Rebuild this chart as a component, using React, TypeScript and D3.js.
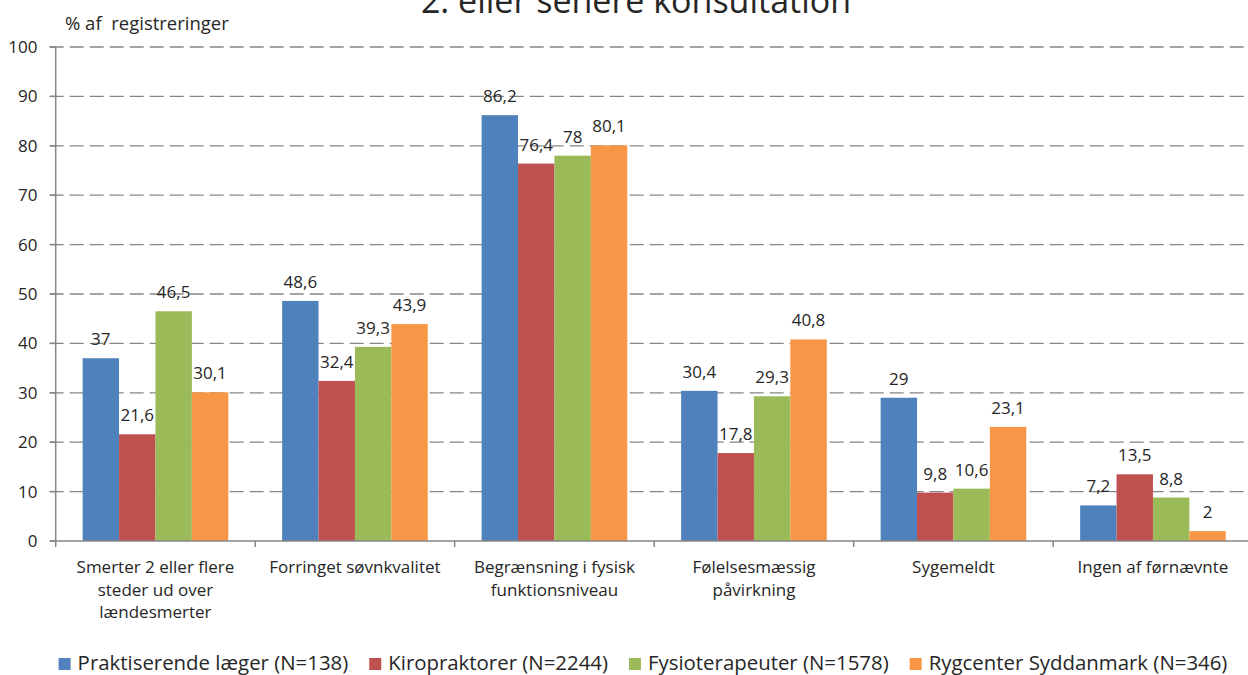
import React, { useEffect, useRef } from "react";
import * as d3 from "d3";

const categories = [
  ["Smerter 2 eller flere", "steder ud over", "lændesmerter"],
  ["Forringet søvnkvalitet"],
  ["Begrænsning i fysisk", "funktionsniveau"],
  ["Følelsesmæssig", "påvirkning"],
  ["Sygemeldt"],
  ["Ingen af førnævnte"],
];
const seriesNames = [
  "Praktiserende læger (N=138)",
  "Kiropraktorer (N=2244)",
  "Fysioterapeuter (N=1578)",
  "Rygcenter Syddanmark (N=346)",
];
const seriesColors = ["#4F81BD", "#C0504D", "#9BBB59", "#F79646"];
const praktiserende = [37, 48.6, 86.2, 30.4, 29, 7.2];
const kiropraktorer = [21.6, 32.4, 76.4, 17.8, 9.8, 13.5];
const fysioterapeuter = [46.5, 39.3, 78, 29.3, 10.6, 8.8];
const rygcenter = [30.1, 43.9, 80.1, 40.8, 23.1, 2];
const yTicks = [0, 10, 20, 30, 40, 50, 60, 70, 80, 90, 100];
const title = "2. eller senere konsultation";
const yTitle = "% af  registreringer";

const FONT = "'Open Sans', sans-serif";

export default function App() {
  const ref = useRef<SVGSVGElement>(null);
  useEffect(() => {
    const svg = d3.select(ref.current);
    svg.selectAll("*").remove();
    const W = 1248, H = 675;
    const left = 55.7, right = 1252.7, top = 47, bottom = 541;
    const y = d3.scaleLinear().domain([0, 100]).range([bottom, top]);
    const idx = d3.range(categories.length);
    const x0 = d3.scaleBand<number>().domain(idx).range([left, right]).padding(0);
    const x1 = d3.scaleBand<number>().domain(d3.range(4)).range([0, x0.bandwidth()]).paddingInner(0).paddingOuter(0.74);
    const series = [praktiserende, kiropraktorer, fysioterapeuter, rygcenter];

    svg.append("rect").attr("width", W).attr("height", H).attr("fill", "#fff");

    // gridlines
    svg.append("g").selectAll("line").data(yTicks.filter(t => t > 0)).join("line")
      .attr("x1", left - 6).attr("x2", W).attr("y1", d => y(d)).attr("y2", d => y(d))
      .attr("stroke", "#868686").attr("stroke-width", 1.3).attr("stroke-dasharray", "14,6");

    // bars
    series.forEach((vals, si) => {
      svg.append("g").selectAll("rect").data(vals).join("rect")
        .attr("x", (d, i) => x0(i)! + x1(si)!)
        .attr("width", x1.bandwidth())
        .attr("y", d => y(d))
        .attr("height", d => y(0) - y(d))
        .attr("fill", seriesColors[si]);
    });

    // axes
    svg.append("line").attr("x1", left).attr("x2", left).attr("y1", top).attr("y2", bottom)
      .attr("stroke", "#868686").attr("stroke-width", 1.5);
    svg.append("line").attr("x1", left - 6).attr("x2", W).attr("y1", bottom).attr("y2", bottom)
      .attr("stroke", "#868686").attr("stroke-width", 1.5);
    svg.append("g").selectAll("line").data(yTicks).join("line")
      .attr("x1", left - 6).attr("x2", left).attr("y1", d => y(d)).attr("y2", d => y(d))
      .attr("stroke", "#868686").attr("stroke-width", 1.5);
    svg.append("g").selectAll("line").data(d3.range(categories.length + 1)).join("line")
      .attr("x1", d => left + d * x0.step()).attr("x2", d => left + d * x0.step())
      .attr("y1", bottom).attr("y2", bottom + 6)
      .attr("stroke", "#868686").attr("stroke-width", 1.5);

    // y tick labels
    svg.append("g").selectAll("text").data(yTicks).join("text")
      .attr("x", 37.5).attr("y", d => y(d) + 6)
      .attr("text-anchor", "end").attr("font-family", FONT).attr("font-size", 17)
      .attr("fill", "#262626").text(d => String(d));

    // data labels
    series.forEach((vals, si) => {
      svg.append("g").selectAll("text").data(vals).join("text")
        .attr("x", (d, i) => x0(i)! + x1(si)! + x1.bandwidth() / 2)
        .attr("y", d => y(d) - 13)
        .attr("text-anchor", "middle").attr("font-family", FONT).attr("font-size", 17)
        .attr("fill", "#262626").text(d => String(d).replace(".", ","));
    });

    // category labels
    const cg = svg.append("g");
    categories.forEach((lines, i) => {
      const t = cg.append("text").attr("text-anchor", "middle").attr("font-family", FONT)
        .attr("font-size", 17).attr("fill", "#262626");
      lines.forEach((ln, j) => {
        t.append("tspan").attr("x", x0(i)! + x0.bandwidth() / 2).attr("y", 573 + j * 22.5).text(ln);
      });
    });

    // titles
    svg.append("text").attr("x", 636).attr("y", 13).attr("text-anchor", "middle")
      .attr("font-family", FONT).attr("font-size", 34).attr("fill", "#262626").text(title);
    svg.append("text").attr("x", 65).attr("y", 30).attr("font-family", FONT)
      .attr("font-size", 18.5).attr("fill", "#262626")
      .style("white-space", "pre").attr("xml:space", "preserve").text(yTitle);

    // legend
    const lg = svg.append("g");
    const items = seriesNames.map((name, i) => {
      const g = lg.append("g");
      g.append("rect").attr("x", 0).attr("y", -12).attr("width", 12).attr("height", 12).attr("fill", seriesColors[i]);
      const t = g.append("text").attr("x", 19).attr("y", 0).attr("font-family", FONT)
        .attr("font-size", 20.4).attr("fill", "#262626").text(name);
      const w = 19 + (t.node() as SVGTextElement).getComputedTextLength();
      return { g, w };
    });
    const gap = 21;
    const total = d3.sum(items, d => d.w) + gap * (items.length - 1);
    let cx = 643 - total / 2;
    items.forEach(it => {
      it.g.attr("transform", `translate(${cx},670)`);
      cx += it.w + gap;
    });
  }, []);
  return (
    <svg ref={ref} width={1248} height={675}
      style={{ position: "absolute", left: 0, top: 0, display: "block" }} />
  );
}
